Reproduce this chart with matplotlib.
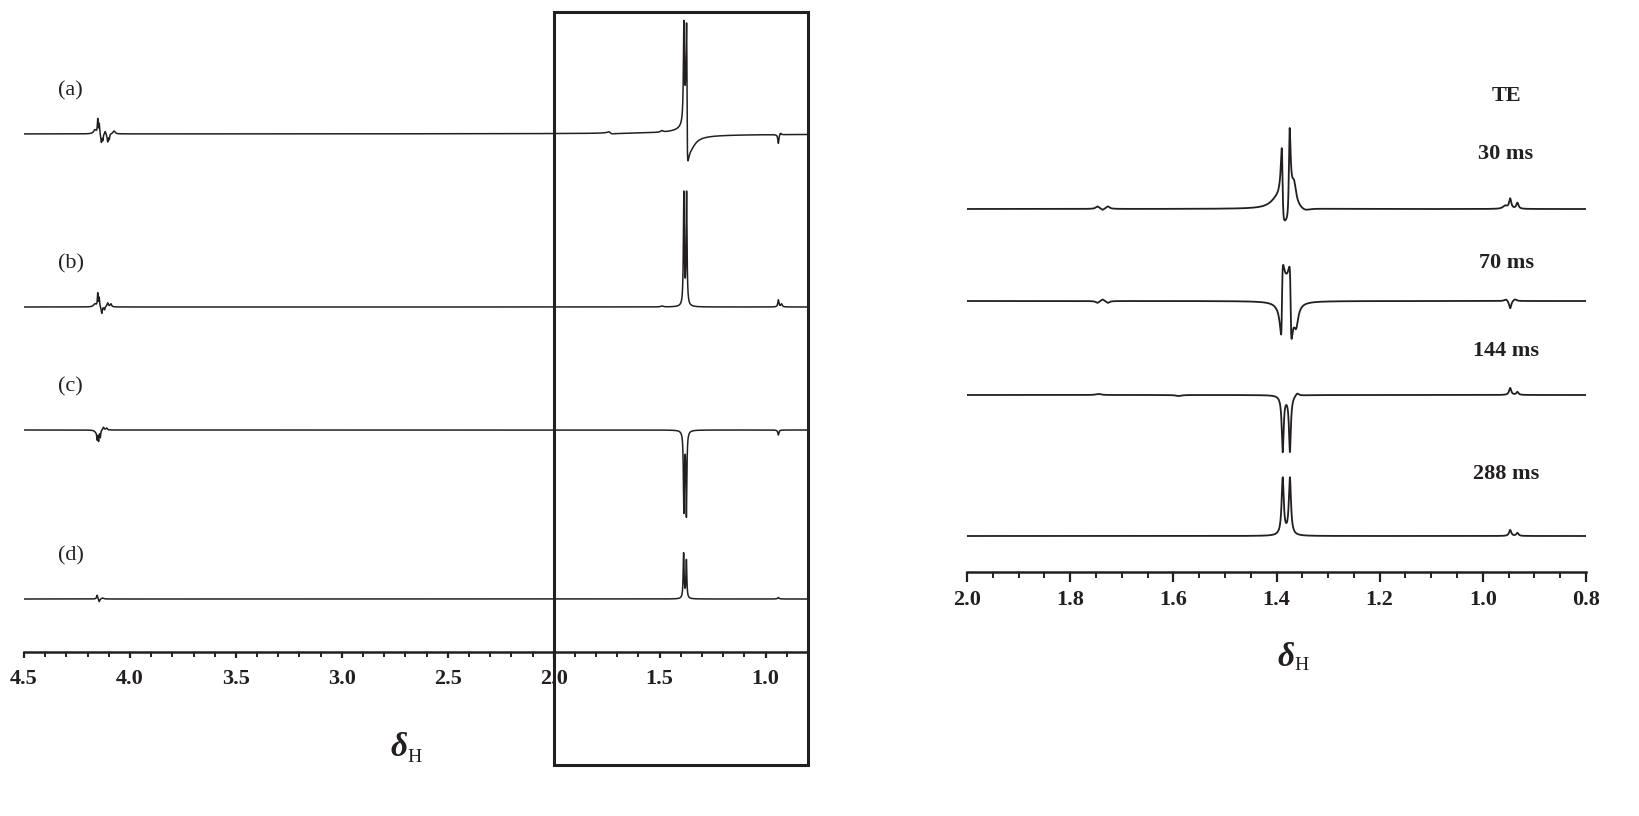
import numpy as np
import matplotlib
matplotlib.use('Agg')
import matplotlib.pyplot as plt
import matplotlib.transforms as mtransforms
from matplotlib.patches import Rectangle
from matplotlib.ticker import MultipleLocator, FormatStrFormatter

plt.rcParams['font.family'] = ['Liberation Serif', 'DejaVu Serif']

# peak tables: (shift ppm, height, half width ppm, phase deg)
left_labels = ['(a)', '(b)', '(c)', '(d)']
peaks_a = [(4.165, 4, 0.008, 0), (4.152, 14, 0.002, 0), (4.145, 10, 0.002, 0),
           (4.135, -9, 0.003, 0), (4.128, -6, 0.002, 0), (4.117, 3, 0.003, 0),
           (4.105, -8, 0.003, 0), (4.098, -5, 0.002, 0), (4.075, 3, 0.006, 0),
           (1.735, 2, 0.008, 60), (1.49, 1.5, 0.006, 0),
           (1.386, 95, 0.0025, 0), (1.372, 135, 0.0025, 50), (1.35, -6, 0.025, 0),
           (0.94, -9, 0.003, 0), (0.93, 2, 0.004, 0)]
peaks_b = [(4.165, 3, 0.008, 0), (4.152, 13, 0.002, 0), (4.145, 9, 0.002, 0),
           (4.133, -7, 0.003, 0), (4.12, -3, 0.002, 0), (4.105, 4, 0.004, 0),
           (4.09, 3, 0.004, 0), (1.49, 1, 0.006, 0),
           (1.386, 112, 0.0025, 0), (1.373, 112, 0.0025, 0),
           (0.94, 7, 0.003, 0), (0.925, 3, 0.004, 0)]
peaks_c = [(4.16, -2, 0.008, 0), (4.155, -8, 0.002, 0), (4.148, -10, 0.002, 0),
           (4.14, -7, 0.002, 0), (4.125, 3, 0.004, 0), (4.11, 2, 0.004, 0),
           (1.386, -80, 0.0025, 0), (1.374, -84, 0.0025, 0),
           (0.94, -5, 0.003, 0)]
peaks_d = [(4.155, 4, 0.003, 0), (4.145, -3, 0.003, 0), (4.13, 1, 0.006, 0),
           (1.387, 45, 0.0025, 0), (1.374, 38, 0.0025, 0),
           (0.94, 1.5, 0.004, 0)]

te_labels = ['30 ms', '70 ms', '144 ms', '288 ms']
peaks_30 = [(1.747, 2.5, 0.004, 0), (1.737, -1.5, 0.003, 0), (1.727, 2.5, 0.004, 0),
            (1.40, 7, 0.015, 0),
            (1.389, 70, 0.002, 45), (1.375, 86, 0.002, -30), (1.366, 20, 0.005, 0),
            (1.345, -3, 0.012, 0),
            (0.957, 3, 0.005, 0), (0.947, 10, 0.0025, 0), (0.933, 6, 0.0025, 0)]
peaks_70 = [(1.747, -2, 0.004, 0), (1.737, 2, 0.004, 0), (1.727, -2, 0.004, 0),
            (1.3895, 68, 0.002, -100), (1.3725, 68, 0.002, 100), (1.362, -20, 0.005, 0),
            (0.955, 2, 0.004, 0), (0.947, -8, 0.0025, 0), (0.938, 2, 0.004, 0)]
peaks_144 = [(1.745, 1, 0.006, 0), (1.59, -1, 0.006, 0),
             (1.388, -56, 0.0022, 0), (1.374, -56, 0.0022, 0), (1.36, 3, 0.004, 0),
             (0.947, 7, 0.0025, 0), (0.933, 3, 0.0025, 0)]
peaks_288 = [(1.388, 57, 0.0025, 0), (1.374, 57, 0.0025, 0),
             (0.947, 6, 0.0025, 0), (0.933, 3, 0.0025, 0)]


def spectrum(ppm, peaks):
    y = np.zeros_like(ppm)
    for x0, h, w, ph in peaks:
        u = ppm - x0
        p = np.deg2rad(ph)
        y += h * (np.cos(p) * w**2 + np.sin(p) * w * u) / (u**2 + w**2)
    return y


line_col = '#231f20'
W, H = 1639, 816
fig = plt.figure(figsize=(W / 100, H / 100), dpi=100)

# left stacked spectra
ax1 = fig.add_axes([24 / W, 1 - 652 / H, 784 / W, 652 / H])
ppm1 = np.linspace(4.5, 0.8, 40000)
left_offsets = [518, 345, 222, 53]
for lab, pk, off in zip(left_labels, [peaks_a, peaks_b, peaks_c, peaks_d], left_offsets):
    ax1.plot(ppm1, spectrum(ppm1, pk) + off, color=line_col, lw=1.1)
    ax1.text(4.28, off + 43, lab, fontsize=16, ha='center', va='center', color=line_col)
ax1.set_xlim(4.5, 0.8)
ax1.set_ylim(0, 652)

# right stacked spectra
ax2 = fig.add_axes([967 / W, 1 - 572 / H, 619 / W, 572 / H])
ppm2 = np.linspace(2.0, 0.8, 40000)
right_offsets = [363, 271, 177, 36]
right_label_y = [418, 309, 221, 98]
for lab, pk, off, ly in zip(te_labels, [peaks_30, peaks_70, peaks_144, peaks_288],
                            right_offsets, right_label_y):
    ax2.plot(ppm2, spectrum(ppm2, pk) + off, color=line_col, lw=1.3)
    ax2.text(0.955, ly, lab, fontsize=16, fontweight='bold', ha='center', va='center',
             color=line_col)
ax2.text(0.955, 476, 'TE', fontsize=16, fontweight='bold', ha='center', va='center',
         color=line_col)
ax2.set_xlim(2.0, 0.8)
ax2.set_ylim(0, 572)

for ax, major, minor, mlen, nlen, pad in [(ax1, 0.5, 0.1, 4, 3.5, 8), (ax2, 0.2, 0.05, 7, 4.5, 6)]:
    for s in ['top', 'right', 'left']:
        ax.spines[s].set_visible(False)
    ax.spines['bottom'].set_linewidth(1.8)
    ax.spines['bottom'].set_color(line_col)
    ax.patch.set_visible(False)
    ax.set_yticks([])
    ax.xaxis.set_major_locator(MultipleLocator(major))
    ax.xaxis.set_minor_locator(MultipleLocator(minor))
    ax.xaxis.set_major_formatter(FormatStrFormatter('%.1f'))
    ax.tick_params(axis='x', which='major', direction='out', length=mlen, width=1.6,
                   color=line_col, pad=pad, labelsize=16)
    ax.tick_params(axis='x', which='minor', direction='out', length=nlen, width=1.4,
                   color=line_col)
    for t in ax.get_xticklabels():
        t.set_fontweight('bold')
        t.set_color(line_col)

# axis titles: bold italic delta with subscript H
for ax, xc, yc in [(ax1, 2.69, 748), (ax2, 1.365, 657)]:
    tr = mtransforms.blended_transform_factory(ax.transData, fig.transFigure)
    ax.text(xc, 1 - yc / H, '\u03b4', transform=tr, fontsize=24, fontweight='bold',
            fontstyle='italic', ha='right', va='center', color=line_col)
    ax.text(xc, 1 - (yc + 9) / H, 'H', transform=tr, fontsize=14, ha='left',
            va='center', color=line_col)

# zoom box over 2.0-0.8 ppm on the left spectra
tr_box = mtransforms.blended_transform_factory(ax1.transData, fig.transFigure)
box = Rectangle((2.0, 1 - 765 / H), 0.8 - 2.0, (765 - 12) / H, transform=tr_box,
                fill=False, lw=2.2, edgecolor=line_col, clip_on=False)
ax1.add_patch(box)

fig.savefig('out.png', dpi=100)
